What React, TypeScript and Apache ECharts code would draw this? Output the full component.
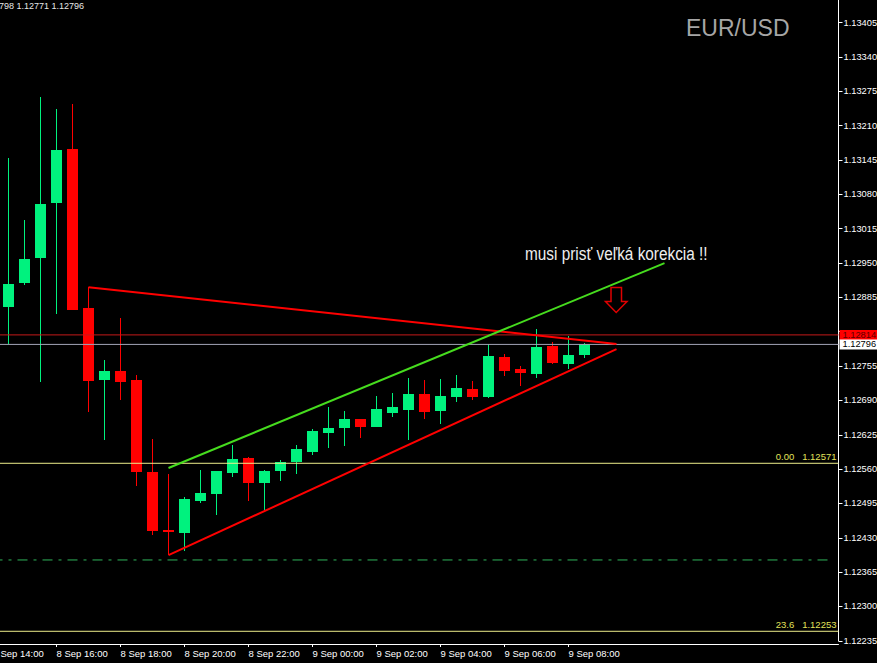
import React, { useEffect, useRef } from "react";
import * as echarts from "echarts";

// ---- data ----
const candleTimes = [
  "8 Sep 14:30", "8 Sep 15:00", "8 Sep 15:30", "8 Sep 16:00", "8 Sep 16:30", "8 Sep 17:00",
  "8 Sep 17:30", "8 Sep 18:00", "8 Sep 18:30", "8 Sep 19:00", "8 Sep 19:30", "8 Sep 20:00",
  "8 Sep 20:30", "8 Sep 21:00", "8 Sep 21:30", "8 Sep 22:00", "8 Sep 22:30", "8 Sep 23:00",
  "8 Sep 23:30", "9 Sep 00:00", "9 Sep 00:30", "9 Sep 01:00", "9 Sep 01:30", "9 Sep 02:00",
  "9 Sep 02:30", "9 Sep 03:00", "9 Sep 03:30", "9 Sep 04:00", "9 Sep 04:30", "9 Sep 05:00",
  "9 Sep 05:30", "9 Sep 06:00", "9 Sep 06:30", "9 Sep 07:00", "9 Sep 07:30", "9 Sep 08:00",
  "9 Sep 08:30",
];
const opens = [
  1.12867, 1.12913, 1.1296, 1.13063, 1.13166, 1.12865, 1.12729, 1.12746, 1.12728, 1.12554,
  1.12444, 1.12439, 1.125, 1.12513, 1.12553, 1.12581, 1.12534, 1.12557, 1.12574, 1.12593,
  1.12629, 1.12638, 1.12655, 1.1264, 1.12667, 1.12672, 1.12702, 1.1267, 1.12697, 1.12711,
  1.12697, 1.12772, 1.12749, 1.1274, 1.12793, 1.12759, 1.12776,
];
const highs = [
  1.13149, 1.13032, 1.13264, 1.13241, 1.13251, 1.12904, 1.12766, 1.12846, 1.12738, 1.12617,
  1.1255, 1.12507, 1.12558, 1.12557, 1.12605, 1.12583, 1.12558, 1.12577, 1.12605, 1.12635,
  1.12677, 1.1267, 1.12655, 1.12698, 1.12704, 1.12732, 1.12728, 1.1273, 1.12738, 1.12727,
  1.12796, 1.12778, 1.12755, 1.12825, 1.128, 1.12812, 1.12798,
];
const lows = [
  1.12797, 1.12909, 1.12725, 1.12854, 1.12862, 1.12668, 1.12615, 1.12691, 1.12528, 1.12436,
  1.12397, 1.12405, 1.12496, 1.12473, 1.12545, 1.125, 1.12483, 1.12538, 1.12551, 1.12587,
  1.12599, 1.12603, 1.12619, 1.1264, 1.12659, 1.12616, 1.12655, 1.12646, 1.12687, 1.12691,
  1.12695, 1.12737, 1.12718, 1.12733, 1.12759, 1.12749, 1.12771,
];
const closes = [
  1.1291, 1.12958, 1.13062, 1.13164, 1.12862, 1.12727, 1.12746, 1.12725, 1.12555, 1.12443,
  1.1244, 1.12504, 1.12514, 1.12556, 1.12579, 1.12534, 1.12556, 1.12573, 1.12598, 1.12632,
  1.12638, 1.12655, 1.1264, 1.12674, 1.12677, 1.12702, 1.12668, 1.12698, 1.12713, 1.12697,
  1.12774, 1.12746, 1.12742, 1.12791, 1.12761, 1.12776, 1.12796,
];
const xTickLabels = [
  "8 Sep 14:00", "8 Sep 16:00", "8 Sep 18:00", "8 Sep 20:00", "8 Sep 22:00",
  "9 Sep 00:00", "9 Sep 02:00", "9 Sep 04:00", "9 Sep 06:00", "9 Sep 08:00",
];
const yTickLabels = [
  "1.12235", "1.12300", "1.12365", "1.12430", "1.12495", "1.12560", "1.12625", "1.12690",
  "1.12755", "1.12820", "1.12885", "1.12950", "1.13015", "1.13080", "1.13145", "1.13210",
  "1.13275", "1.13340", "1.13405",
];
// tick label hidden behind the ask price tag
const hiddenYLabel = "1.12820";
// trend lines: [candle index, price]
const upperRedLine = [[5, 1.12904], [38, 1.12797]];
const lowerRedLine = [[10, 1.12397], [38, 1.12787]];
const greenLine = [[10, 1.12562], [41, 1.1295]];
// horizontal levels
const askLevel = 1.12814;
const bidLevel = 1.12796;
const fibNames = ["0.00", "23.6"];
const fibValues = [1.12571, 1.12253];
const dashLevel = 1.12388;
const headerText = "798 1.12771 1.12796";

const X_MIN = -1;
const X_MAX = 51.875;
const GREEN = "#00f27e";
const RED = "#ff0000";
const FONT = '"Liberation Sans", Arial, sans-serif';

export default function App() {
  const ref = useRef<HTMLDivElement>(null);
  useEffect(() => {
    if (!ref.current) return;
    const chart = echarts.init(ref.current, null, { renderer: "svg", width: 877, height: 663 });
    const yTicks = yTickLabels.map((s) => parseFloat(s));
    const yLabelValues = yTickLabels.filter((s) => s !== hiddenYLabel).map((s) => parseFloat(s));
    const xTicks = xTickLabels.map((_, j) => -1 + 4 * j);
    const candleData = candleTimes.map((_, i) => [i, opens[i], closes[i], lows[i], highs[i]]);

    const levelSeries = (value: number, lineStyle: any, endLabel: any, xEnd = X_MAX) => ({
      type: "line",
      data: [[X_MIN, value], [xEnd, value]],
      symbol: "none",
      silent: true,
      clip: false,
      lineStyle,
      endLabel: endLabel || { show: false },
      z: 2,
    });

    const fibSeries = fibValues.map((v, k) =>
      levelSeries(v, { color: "#eeee8a", width: 1 }, {
        show: true,
        formatter: fibNames[k] + "   " + v.toFixed(5),
        align: "right",
        verticalAlign: "bottom",
        distance: 0,
        offset: [-2, -2],
        color: "#e2e25a",
        fontSize: 9.5,
        fontFamily: FONT,
      })
    );

    const option: any = {
      animation: false,
      backgroundColor: "#000000",
      grid: {
        left: -7.5,
        right: 38.5,
        top: 0,
        bottom: 22.2,
        containLabel: false,
        outerBoundsMode: "none",
      },
      xAxis: {
        type: "value",
        min: X_MIN,
        max: X_MAX,
        interval: 4,
        offset: 3.2,
        splitLine: { show: false },
        axisLine: { show: true, onZero: false, lineStyle: { color: "#ffffff", width: 1 } },
        axisTick: { show: true, length: 3, customValues: xTicks, lineStyle: { color: "#ffffff" } },
        axisLabel: {
          show: true,
          customValues: xTicks,
          align: "left",
          margin: 4,
          color: "#ffffff",
          fontSize: 9.5,
          fontFamily: FONT,
          formatter: (v: number) => {
            const j = Math.round((v + 1) / 4);
            return Math.abs(v - (-1 + 4 * j)) < 1e-6 && xTickLabels[j] ? xTickLabels[j] : "";
          },
        },
      },
      yAxis: {
        type: "value",
        position: "right",
        min: 1.12235,
        max: 1.134479,
        interval: 0.00065,
        scale: true,
        splitLine: { show: false },
        axisLine: { show: true, onZero: false, lineStyle: { color: "#ffffff", width: 1 } },
        axisTick: { show: true, length: 4, customValues: yTicks, lineStyle: { color: "#ffffff" } },
        axisLabel: {
          show: true,
          customValues: yLabelValues,
          margin: 5,
          color: "#ffffff",
          fontSize: 9.3,
          fontFamily: FONT,
          formatter: (v: number) => v.toFixed(5),
        },
      },
      series: [
        {
          type: "custom",
          name: "EURUSD",
          data: candleData,
          encode: { x: 0, y: [1, 2, 3, 4] },
          clip: true,
          renderItem: (params: any, api: any) => {
            const i = api.value(0);
            const o = api.value(1);
            const c = api.value(2);
            const l = api.value(3);
            const h = api.value(4);
            const color = c >= o ? GREEN : RED;
            const pTop = api.coord([i, Math.max(o, c)]);
            const pBot = api.coord([i, Math.min(o, c)]);
            const pH = api.coord([i, h]);
            const pL = api.coord([i, l]);
            const cx = pH[0];
            const w = 11;
            const yt = Math.round(pTop[1]);
            const hb = Math.max(1, Math.round(pBot[1]) - yt);
            return {
              type: "group",
              children: [
                {
                  type: "line",
                  shape: { x1: cx, y1: Math.round(pH[1]), x2: cx, y2: Math.round(pL[1]) },
                  style: { stroke: color, lineWidth: 1 },
                },
                {
                  type: "rect",
                  shape: { x: cx - w / 2, y: yt, width: w, height: hb },
                  style: { fill: color },
                },
              ],
            };
          },
        },
        levelSeries(dashLevel, { color: "#2fb45a", width: 1, type: [10, 6, 3, 6] }, null, 51.5),
        ...fibSeries,
        levelSeries(askLevel, { color: "#c41a1a", width: 1 }, {
          show: true,
          formatter: askLevel.toFixed(5),
          distance: 1,
          backgroundColor: "#ff0000",
          color: "#5a0000",
          padding: [1, 3, 0, 3],
          fontSize: 9.3,
          fontFamily: FONT,
        }),
        levelSeries(bidLevel, { color: "#a2a4b6", width: 1 }, {
          show: true,
          formatter: bidLevel.toFixed(5),
          distance: 1,
          backgroundColor: "#ffffff",
          color: "#000000",
          padding: [1, 3, 0, 3],
          fontSize: 9.3,
          fontFamily: FONT,
        }),
        {
          type: "line",
          data: upperRedLine,
          symbol: "none",
          lineStyle: { color: RED, width: 2 },
          z: 3,
        },
        {
          type: "line",
          data: lowerRedLine,
          symbol: "none",
          lineStyle: { color: RED, width: 2 },
          z: 3,
        },
        {
          type: "line",
          data: greenLine,
          symbol: "none",
          lineStyle: { color: "#46dc1e", width: 2 },
          z: 4,
        },
      ],
      graphic: [
        {
          type: "text",
          x: -1,
          y: 1,
          z: 100,
          style: { text: headerText, fill: "#e6e6e6", fontSize: 9, fontFamily: FONT, align: "left", verticalAlign: "top" },
        },
        {
          type: "text",
          x: 686,
          y: 28,
          z: 100,
          style: { text: "EUR/USD", fill: "#a6a6a6", fontSize: 23, fontFamily: FONT, align: "left", verticalAlign: "middle" },
        },
        {
          type: "text",
          x: 525,
          y: 254,
          scaleX: 0.83,
          z: 100,
          style: {
            text: "musi prisť veľká korekcia !!",
            fill: "#eeeeee",
            fontSize: 18.5,
            fontFamily: FONT,
            align: "left",
            verticalAlign: "middle",
          },
        },
        {
          type: "polygon",
          z: 100,
          shape: {
            points: [
              [611, 287.5], [621.5, 287.5], [621.5, 301.5], [627, 301.5],
              [616.2, 312.5], [605.5, 301.5], [611, 301.5],
            ],
          },
          style: { fill: "none", stroke: "#e00000", lineWidth: 1.5 },
        },
      ],
    };
    chart.setOption(option);
    return () => chart.dispose();
  }, []);
  return (
    <div
      ref={ref}
      style={{ position: "fixed", left: 0, top: 0, width: 877, height: 663, background: "#000" }}
    />
  );
}
